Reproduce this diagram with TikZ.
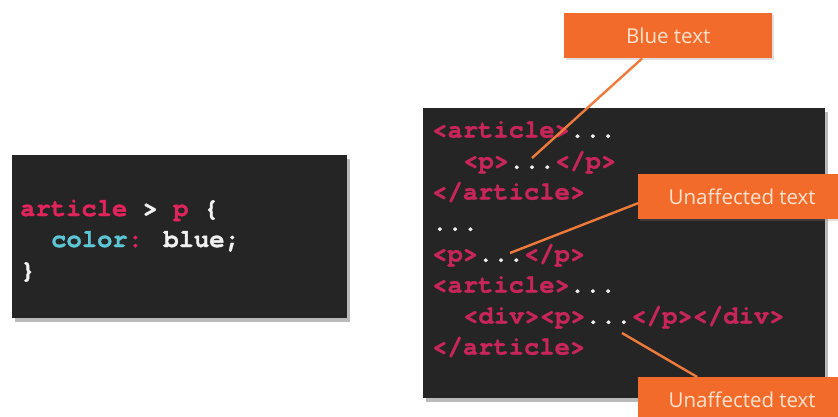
\documentclass[tikz,border=0pt]{standalone}
\usepackage{fontspec}
\newfontfamily\labelfont{Open Sans}
\newfontfamily\codefam{texgyrecursor-bold}[Extension=.otf, FakeBold=1.2]
\usetikzlibrary{shadows,calc}
\definecolor{codebg}{HTML}{252525}
\definecolor{pinkL}{HTML}{E2245D}
\definecolor{pinkR}{HTML}{C8265A}
\definecolor{cyanC}{HTML}{5CC6D4}
\definecolor{codewhite}{HTML}{F0F0F0}
\definecolor{orangebox}{HTML}{F36B2A}
\definecolor{orangeline}{HTML}{EE7A3C}
\definecolor{labeltext}{HTML}{FDE3CF}
\newcommand\codefont{\fontsize{25.5}{31}\selectfont\codefam}
\tikzset{
  codebox/.style={fill=codebg, inner sep=0pt, anchor=north west,
    drop shadow={shadow xshift=3pt, shadow yshift=-4pt, opacity=0.45, fill=black!60}},
  callout/.style={fill=orangebox, inner sep=0pt, anchor=north west,
    text=labeltext, font=\labelfont\fontsize{20.5}{24}\selectfont,
    drop shadow={shadow xshift=1.5pt, shadow yshift=-2pt, opacity=0.25, fill=black!50}},
  codeline/.style={anchor=base west, inner sep=0pt, font=\codefont, text=codewhite},
  conn/.style={draw=orangeline, line width=2.4pt},
}
\begin{document}
\begin{tikzpicture}[x=1pt,y=-1pt]
\useasboundingbox (0,0) rectangle (838,416);
\clip (0,0) rectangle (838,416);
\fill[white] (0,0) rectangle (838,416);
% left CSS box
\node[codebox, minimum width=335pt, minimum height=163pt] (css) at (12,155) {};
\node[codeline] (c1) at (20,216) {\textcolor{pinkL}{article} > \textcolor{pinkL}{p} \{};
\node[codeline] (c2) at (51,247) {\textcolor{cyanC}{color}\textcolor{pinkL}{:} blue;};
\node[codeline] (c3) at (20,278) {\}};
% right HTML box
\node[codebox, minimum width=402pt, minimum height=290pt] (html) at (423,108) {};
\node[codeline] (h1) at (432,137.5) {\textcolor{pinkR}{<article>}...};
\node[codeline] (h2) at (463,168.5) {\textcolor{pinkR}{<p>}...\textcolor{pinkR}{</p>}};
\node[codeline] (h3) at (432,199.5) {\textcolor{pinkR}{</article>}};
\node[codeline] (h4) at (432,230.5) {...};
\node[codeline] (h5) at (432,261.5) {\textcolor{pinkR}{<p>}...\textcolor{pinkR}{</p>}};
\node[codeline] (h6) at (432,292.5) {\textcolor{pinkR}{<article>}...};
\node[codeline] (h7) at (463,323.5) {\textcolor{pinkR}{<div><p>}...\textcolor{pinkR}{</p></div>}};
\node[codeline] (h8) at (432,354.5) {\textcolor{pinkR}{</article>}};
% callouts
\node[callout, minimum width=208pt, minimum height=45pt] (blue) at (564,13) {Blue text};
\node[callout, minimum width=208pt, minimum height=45pt] (un1) at (638,174) {Unaffected text};
\node[callout, minimum width=208pt, minimum height=46pt] (un2) at (638,377) {Unaffected text};
% connector end points
\coordinate (e1) at (532,158);
\coordinate (e2) at (510,253);
\coordinate (e3) at (622,333);
\draw[conn] ($(blue.south)+(-26,0)$) -- (e1);
\draw[conn] ($(un1.west)+(0,6.5)$) -- (e2);
\draw[conn] ($(un2.north)+(-45,0)$) -- (e3);
\end{tikzpicture}
\end{document}
